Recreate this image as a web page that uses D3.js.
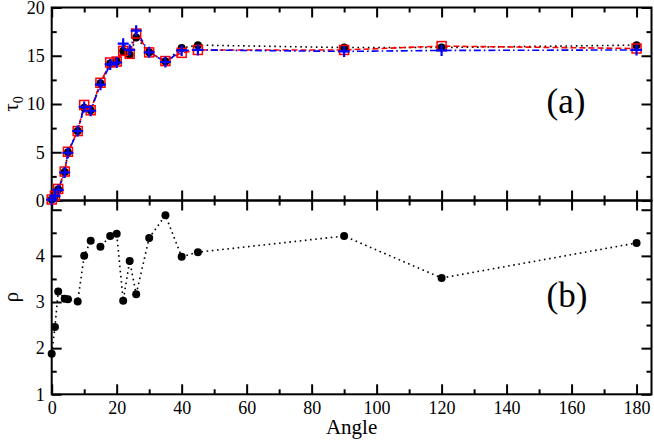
<!DOCTYPE html>
<html>
<head>
    <meta charset="utf-8">
    <title>Tau and rho vs angle</title>
    <script src="https://d3js.org/d3.v7.min.js"></script>
    <style>
        body { margin: 0; background: #fff; }
        svg text { font-family: "Liberation Serif", "Times New Roman", Times, "DejaVu Serif", "Noto Serif", serif !important; }
    </style>
</head>

<body>
<div id="chart"></div>
<script type="text/javascript">

    // data
    let angles = [0, 1, 2, 4, 5, 8, 10, 12, 15, 18, 20, 22, 24, 26, 30, 35, 40, 45, 90, 120, 180];
    let tauBlack = [0.1, 0.5, 1.15, 2.95, 5.0, 7.2, 9.6, 9.35, 12.15, 14.2, 14.4, 15.5, 15.1, 16.9, 15.35, 14.4, 15.8, 16.1, 15.85, 15.85, 16.1];
    let tauRed   = [0.1, 0.5, 1.2, 3.0, 5.05, 7.2, 9.9, 9.35, 12.2, 14.3, 14.4, 15.5, 15.2, 17.3, 15.35, 14.45, 15.3, 15.6, 15.6, 16.0, 15.75];
    let tauBlue  = [0.1, 0.45, 1.1, 2.9, 4.95, 7.2, 9.7, 9.3, 12.0, 14.1, 14.3, 16.25, 15.6, 17.6, 15.35, 14.35, 15.55, 15.6, 15.45, 15.55, 15.6];
    let rho = [1.88, 2.46, 3.23, 3.07, 3.06, 3.01, 4.0, 4.33, 4.2, 4.43, 4.48, 3.03, 3.89, 3.17, 4.39, 4.88, 3.98, 4.08, 4.43, 3.52, 4.28];

    let xMajor = [0, 20, 40, 60, 80, 100, 120, 140, 160, 180];
    let xMinor = [10, 30, 50, 70, 90, 110, 130, 150, 170];
    let tauMajor = [0, 5, 10, 15, 20];
    let tauMinor = [2.5, 7.5, 12.5, 17.5];
    let rhoMajor = [1, 2, 3, 4, 5];
    let rhoLabels = [1, 2, 3, 4];
    let rhoMinor = [1.5, 2.5, 3.5, 4.5];

    let W = 654, H = 440;
    let left = 51.7, right = 651.5;
    let topY = 7.5, midY = 200.5, botY = 394.3;
    let serif = "'Liberation Serif', 'Times New Roman', Times, 'DejaVu Serif', serif";

    let svg = d3.select("#chart")
        .append("svg")
        .attr("width", W)
        .attr("height", H)
        .attr("font-family", serif);

    let x = d3.scaleLinear().domain([0, 184.6]).range([left, right]);
    let yTau = d3.scaleLinear().domain([0, 20]).range([midY, topY]);
    let yRho = d3.scaleLinear().domain([1, 5.2]).range([botY, midY]);

    function styleAxis(g) {
        g.attr("font-family", serif);
        g.select(".domain").remove();
        g.selectAll("line").attr("stroke", "#000").attr("stroke-width", 2);
        g.selectAll("text").attr("font-size", "18px").attr("fill", "#000");
    }

    function xAxes(y0, labels, dir) {
        // axisBottom: ticks up from a bottom edge, axisTop: ticks down from a top edge
        let maj = dir(x).tickValues(xMajor).tickSize(-10).tickPadding(7.4);
        if (!labels) maj.tickFormat("");
        svg.append("g").attr("transform", "translate(0," + y0 + ")").call(maj).call(styleAxis);
        svg.append("g").attr("transform", "translate(0," + y0 + ")")
            .call(dir(x).tickValues(xMinor).tickSize(-5).tickFormat("")).call(styleAxis);
    }

    function yAxes(scale, major, minor, labelVals) {
        svg.append("g").attr("transform", "translate(" + left + ",0)")
            .call(d3.axisLeft(scale).tickValues(major).tickSize(-10).tickPadding(7)
                .tickFormat(d => labelVals.indexOf(d) >= 0 ? d : ""))
            .call(styleAxis);
        svg.append("g").attr("transform", "translate(" + left + ",0)")
            .call(d3.axisLeft(scale).tickValues(minor).tickSize(-5).tickFormat(""))
            .call(styleAxis);
        svg.append("g").attr("transform", "translate(" + right + ",0)")
            .call(d3.axisRight(scale).tickValues(major).tickSize(-10).tickFormat(""))
            .call(styleAxis);
        svg.append("g").attr("transform", "translate(" + right + ",0)")
            .call(d3.axisRight(scale).tickValues(minor).tickSize(-5).tickFormat(""))
            .call(styleAxis);
    }

    // panel (a)
    xAxes(topY, false, d3.axisTop);
    xAxes(midY, false, d3.axisBottom);
    yAxes(yTau, tauMajor, tauMinor, tauMajor);

    // panel (b)
    xAxes(midY, false, d3.axisTop);
    xAxes(botY, true, d3.axisBottom);
    yAxes(yRho, rhoMajor, rhoMinor, rhoLabels);

    // frames
    [[topY, midY], [midY, botY]].forEach(function(p) {
        svg.append("rect")
            .attr("x", left).attr("y", p[0])
            .attr("width", right - left).attr("height", p[1] - p[0])
            .attr("fill", "none").attr("stroke", "#000").attr("stroke-width", 2);
    });

    function pts(vals) {
        return angles.map(function(a, i) { return [a, vals[i]]; });
    }

    function drawLine(vals, yScale, color, dash) {
        let line = d3.line().x(d => x(d[0])).y(d => yScale(d[1]));
        svg.append("path")
            .datum(pts(vals))
            .attr("d", line)
            .attr("fill", "none")
            .attr("stroke", color)
            .attr("stroke-width", 1.6)
            .attr("stroke-dasharray", dash);
    }

    // lines of panel (a)
    drawLine(tauBlack, yTau, "#000", "1.6,3.6");
    drawLine(tauRed, yTau, "#ff0000", "6,3");
    drawLine(tauBlue, yTau, "#0000ff", "7,3,1.6,3");

    // black circles
    svg.append("g").selectAll("circle")
        .data(pts(tauBlack))
        .enter()
        .append("circle")
        .attr("cx", d => x(d[0]))
        .attr("cy", d => yTau(d[1]))
        .attr("r", 4)
        .attr("fill", "#000");

    // red open squares
    svg.append("g").selectAll("rect")
        .data(pts(tauRed))
        .enter()
        .append("rect")
        .attr("x", d => x(d[0]) - 4.5)
        .attr("y", d => yTau(d[1]) - 4.5)
        .attr("width", 9)
        .attr("height", 9)
        .attr("fill", "none")
        .attr("stroke", "#ff0000")
        .attr("stroke-width", 1.5);

    // blue plus
    svg.append("g").selectAll("path")
        .data(pts(tauBlue))
        .enter()
        .append("path")
        .attr("d", function(d) {
            let cx = x(d[0]), cy = yTau(d[1]), s = 5.5;
            return "M" + (cx - s) + "," + cy + "H" + (cx + s) + "M" + cx + "," + (cy - s) + "V" + (cy + s);
        })
        .attr("stroke", "#0000ff")
        .attr("stroke-width", 2.2);

    // panel (b)
    drawLine(rho, yRho, "#000", "1.6,3.6");
    svg.append("g").selectAll("circle")
        .data(pts(rho))
        .enter()
        .append("circle")
        .attr("cx", d => x(d[0]))
        .attr("cy", d => yRho(d[1]))
        .attr("r", 4)
        .attr("fill", "#000");

    // labels
    svg.append("text")
        .attr("x", 566).attr("y", 113)
        .attr("text-anchor", "middle")
        .attr("font-size", "35px")
        .text("(a)");
    svg.append("text")
        .attr("x", 567).attr("y", 307)
        .attr("text-anchor", "middle")
        .attr("font-size", "35px")
        .text("(b)");

    svg.append("text")
        .attr("x", (left + right) / 2).attr("y", 434)
        .attr("text-anchor", "middle")
        .attr("font-size", "21px")
        .text("Angle");

    let tauLabel = svg.append("text")
        .attr("transform", "translate(18,104) rotate(-90)")
        .attr("text-anchor", "middle")
        .attr("font-size", "21px");
    tauLabel.append("tspan").text("τ");
    tauLabel.append("tspan").attr("font-size", "14px").attr("dy", 5).text("0");

    svg.append("text")
        .attr("transform", "translate(18,297) rotate(-90)")
        .attr("text-anchor", "middle")
        .attr("font-size", "21px")
        .text("ρ");

</script>
</body>
</html>
